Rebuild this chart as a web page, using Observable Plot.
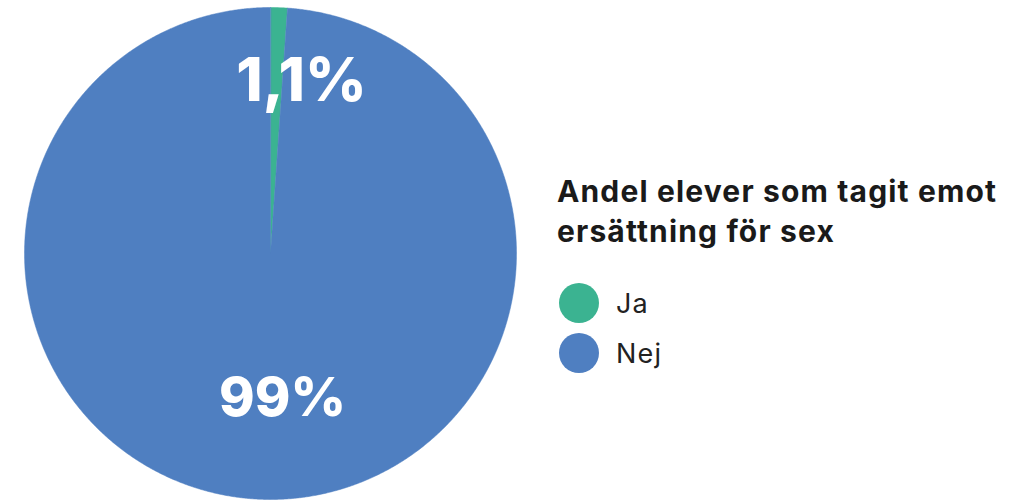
<!DOCTYPE html>
<html>
<head>
<meta charset="utf-8">
<script src="https://cdn.jsdelivr.net/npm/d3@7"></script>
<script src="https://cdn.jsdelivr.net/npm/@observablehq/plot@0.6"></script>
<style>
  html, body { margin: 0; padding: 0; background: #fff; }
  #wrap { position: relative; width: 1011px; height: 501px; overflow: hidden; }
  #legend { position: absolute; left: 557px; top: 171px; font-family: Inter, "Noto Sans", sans-serif; color: #1a1a1a; }
  #legend .title { font-size: 30px; font-weight: 700; line-height: 40px; letter-spacing: 1.15px; white-space: nowrap; }
  #legend .item { display: flex; align-items: center; height: 50px; font-size: 27px; font-weight: 400; color: #222; letter-spacing: 1.2px; }
  #legend .sw { width: 40px; height: 40px; border-radius: 50%; margin-right: 17px; margin-left: 2px; }
</style>
</head>
<body>
<div id="wrap">
  <div id="chart"></div>
  <div id="legend"></div>
</div>
<script>
const categories = ["Ja", "Nej"];
const values = [1.1, 98.9];
const labels = ["1,1%", "99%"];
const colors = ["#3bb391", "#4f7fc1"];
const legendTitle = ["Andel elever som tagit emot", "ersättning för sex"];

// geometry (layout only)
const W = 1011, H = 501, cx = 270, cy = 253, R = 246;

const data = categories.map((c, i) => ({category: c, value: values[i], label: labels[i]}));
const arcs = d3.pie().sort(null).value(d => d.value)(data);

// polygon points for each slice in unit coordinates (y up)
const pts = [];
for (const a of arcs) {
  pts.push({category: a.data.category, x: 0, y: 0});
  const n = Math.max(4, Math.ceil((a.endAngle - a.startAngle) / 0.005));
  for (let k = 0; k <= n; k++) {
    const t = a.startAngle + (a.endAngle - a.startAngle) * k / n;
    pts.push({category: a.data.category, x: Math.sin(t), y: Math.cos(t)});
  }
}

// label placement
const labelPos = [
  {label: labels[0], x: 0.126, y: 0.70, size: 60},
  {label: labels[1], x: 0.049, y: -0.59, size: 54}
];

const chart = Plot.plot({
  width: W, height: H,
  margin: 0,
  x: {domain: [-cx / R, (W - cx) / R], axis: null},
  y: {domain: [-(H - cy) / R, cy / R], axis: null},
  color: {domain: categories, range: colors},
  style: {background: "transparent"},
  marks: [
    Plot.line(pts, {x: "x", y: "y", z: "category", fill: "category", stroke: "category", strokeWidth: 0.5, curve: "linear-closed"}),
    Plot.text([labelPos[0]], {x: "x", y: "y", text: "label", fill: "white", fontSize: labelPos[0].size, fontWeight: 800, fontFamily: "Inter, 'Noto Sans', sans-serif", textAnchor: "middle", lineAnchor: "middle"}),
    Plot.text([labelPos[1]], {x: "x", y: "y", text: "label", fill: "white", fontSize: labelPos[1].size, fontWeight: 800, fontFamily: "Inter, 'Noto Sans', sans-serif", textAnchor: "middle", lineAnchor: "middle"})
  ]
});
document.getElementById("chart").appendChild(chart);

const leg = document.getElementById("legend");
leg.innerHTML = `<div class="title">${legendTitle.join("<br>")}</div><div style="height:27px"></div>` +
  categories.map((c, i) => `<div class="item"><div class="sw" style="background:${colors[i]}"></div>${c}</div>`).join("");
</script>
</body>
</html>
